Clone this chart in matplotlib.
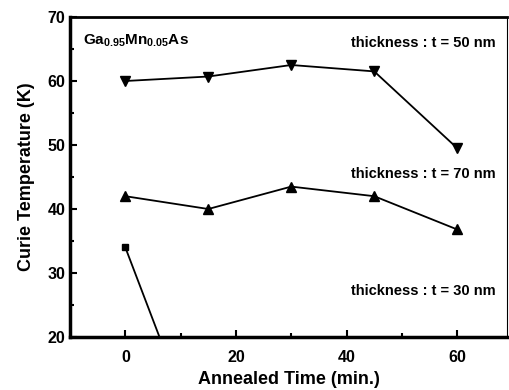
import numpy as np
from matplotlib import pyplot as plt

plt.rcParams['font.family'] = ['Liberation Sans', 'DejaVu Sans']
plt.rcParams['font.weight'] = 'bold'
plt.rcParams['mathtext.fontset'] = 'custom'
plt.rcParams['mathtext.bf'] = 'Liberation Sans:bold'
plt.rcParams['mathtext.rm'] = 'Liberation Sans:bold'

# annealing time (min.)
time = [0, 15, 30, 45, 60]
# Curie temperature (K) for each film thickness
tc_50nm = [60.0, 60.7, 62.5, 61.5, 49.5]
tc_70nm = [42.0, 40.0, 43.5, 42.0, 36.8]
time_30nm = [0, 15]
tc_30nm = [34.0, 0.0]

labels = ['thickness : t = 50 nm', 'thickness : t = 70 nm', 'thickness : t = 30 nm']

fig = plt.figure(figsize=(5.09, 3.90), dpi=100)
ax = fig.add_axes([70 / 509, 53 / 390, 437 / 509, 320 / 390])

ax.plot(time, tc_50nm, 'k-', marker='v', markersize=6.5, linewidth=1.3)
ax.plot(time, tc_70nm, 'k-', marker='^', markersize=6.5, linewidth=1.3)
ax.plot(time_30nm, tc_30nm, 'k-', marker='s', markersize=4.5, linewidth=1.3)

ax.set_xlim(-10, 69)
ax.set_ylim(20, 70)
ax.set_xticks([0, 20, 40, 60])
ax.set_xticks([10, 30, 50], minor=True)
ax.set_yticks([20, 30, 40, 50, 60, 70])
ax.set_yticks([25, 35, 45, 55, 65], minor=True)
ax.tick_params(which='both', direction='in', top=False, right=False, labelsize=11.5, width=1.5)
ax.tick_params(which='major', length=5)
ax.tick_params(which='minor', length=3)
ax.tick_params(axis='x', pad=9)
for lab in ax.get_xticklabels() + ax.get_yticklabels():
    lab.set_fontweight('bold')

ax.spines['left'].set_linewidth(2.5)
ax.spines['bottom'].set_linewidth(2.5)
ax.spines['top'].set_linewidth(2)
ax.spines['right'].set_linewidth(0.8)

ax.set_xlabel('Annealed Time (min.)', fontsize=13, fontweight='bold', labelpad=5)
ax.set_ylabel('Curie Temperature (K)', fontsize=13, fontweight='bold', labelpad=9)

ax.text(0.03, 0.925, r'$\mathbf{Ga_{0.95}Mn_{0.05}As}$', transform=ax.transAxes,
        fontsize=11, va='center', ha='left')
ax.text(0.975, 0.92, labels[0], transform=ax.transAxes, fontsize=10.5, fontweight='bold',
        va='center', ha='right')
ax.text(0.975, 0.51, labels[1], transform=ax.transAxes, fontsize=10.5, fontweight='bold',
        va='center', ha='right')
ax.text(0.975, 0.145, labels[2], transform=ax.transAxes, fontsize=10.5, fontweight='bold',
        va='center', ha='right')

plt.savefig('out.png', dpi=100)
